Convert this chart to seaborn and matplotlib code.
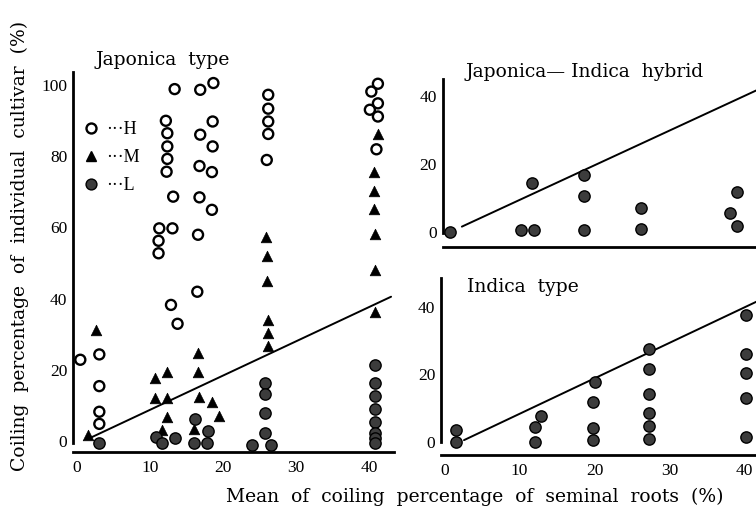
import matplotlib
matplotlib.use("Agg")
import matplotlib.pyplot as plt
from matplotlib.lines import Line2D
import seaborn as sns

# ---------------- data ----------------
# Japonica type (left panel)
H_x = [0.5, 3.1, 3.1, 3.1, 3.1, 11.2, 11.2, 11.3, 12.2, 12.4, 12.4, 12.4, 12.3, 12.9, 13.1, 13.2,
       13.4, 13.8, 16.5, 16.6, 16.8, 16.8, 16.9, 16.9, 18.5, 18.5, 18.6, 18.6, 18.7, 26.0, 26.2,
       26.2, 26.2, 26.2, 40.1, 40.3, 41.0, 41.2, 41.2, 41.2]
H_y = [22.8, 24.3, 15.4, 8.2, 4.8, 52.7, 56.2, 59.7, 89.9, 86.4, 82.7, 79.2, 75.6, 38.2, 59.7, 68.6,
       98.8, 32.9, 41.9, 57.9, 68.4, 77.2, 86.0, 98.6, 75.5, 64.9, 89.7, 82.7, 100.5, 78.9, 97.2,
       93.3, 89.7, 86.2, 93.0, 98.1, 81.9, 100.3, 94.8, 91.1]
M_x = [1.5, 2.6, 10.7, 10.7, 11.7, 12.3, 12.3, 12.4, 16.0, 16.6, 16.6, 16.7, 18.5, 19.5, 25.9,
       26.0, 26.0, 26.2, 26.2, 26.2, 40.6, 40.6, 40.7, 40.8, 40.8, 40.8, 41.2]
M_y = [1.7, 31.2, 17.6, 12.2, 3.1, 19.3, 12.2, 6.8, 3.4, 24.6, 19.5, 12.4, 10.8, 7.1, 57.4,
       51.9, 45.0, 34.0, 30.4, 26.7, 75.6, 70.3, 65.2, 58.1, 48.0, 36.3, 86.2]
L_x = [3.0, 10.8, 11.7, 13.4, 16.1, 16.2, 17.8, 17.9, 24.0, 25.8, 25.8, 25.8, 25.8, 26.6,
       40.8, 40.8, 40.8, 40.8, 40.8, 40.8, 40.8, 40.8]
L_y = [-0.5, 1.0, -0.7, 0.8, -0.7, 6.2, -0.7, 2.8, -1.1, 16.4, 13.2, 7.8, 2.3, -1.1,
       21.3, 16.2, 12.7, 9.0, 5.4, 2.3, 0.8, -0.5]
jap_line_x = [2.0, 43.0]
jap_line_y = [1.0, 40.5]

# Japonica-Indica hybrid (top right)
hyb_x = [0.7, 10.4, 12.1, 11.9, 18.9, 18.9, 18.9, 26.7, 26.7, 38.9, 39.8, 39.8]
hyb_y = [0.0, 0.6, 0.6, 14.4, 16.9, 10.6, 0.6, 7.1, 0.9, 5.6, 11.9, 1.7]
hyb_line_x = [2.3, 43.0]
hyb_line_y = [1.6, 42.2]

# Indica type (bottom right)
ind_x = [1.6, 1.6, 12.1, 12.1, 12.8, 19.8, 19.8, 19.8, 20.0, 27.2, 27.2, 27.2, 27.2, 27.2, 27.2,
         40.2, 40.2, 40.2, 40.2, 40.2]
ind_y = [3.5, 0.0, 0.0, 4.5, 7.7, 0.5, 4.2, 11.8, 17.7, 0.8, 4.8, 8.5, 14.2, 21.7, 27.5,
         1.5, 13.0, 20.5, 26.1, 37.6]
ind_line_x = [2.6, 43.0]
ind_line_y = [0.5, 43.0]

left_yticks = [0, 20, 40, 60, 80, 100]
right_yticks = [0, 20, 40]
xticks = [0, 10, 20, 30, 40]
legend_labels = ["···H", "···M", "···L"]

# ---------------- style ----------------
sns.set_style("white")
plt.rcParams["font.family"] = ["DejaVu Serif"]
plt.rcParams["text.color"] = "black"
TICK_FONT = dict(family=["Liberation Serif", "DejaVu Serif"], size=12.5)
L_FACE = "#3c3c3c"

fig = plt.figure(figsize=(7.56, 5.07), dpi=100)
W, Hh = 756.0, 507.0
ax1 = fig.add_axes([73 / W, 1 - 452 / Hh, 321 / W, 380 / Hh])
ax2 = fig.add_axes([442.5 / W, 1 - 246.7 / Hh, 313.5 / W, 167.7 / Hh])
ax3 = fig.add_axes([440.7 / W, 1 - 455 / Hh, 315.3 / W, 177 / Hh])

kw_H = dict(marker="o", s=52, facecolor="none", edgecolor="black", linewidth=1.7)
kw_M = dict(marker="^", s=58, color="black", edgecolor="black", linewidth=0.5)
kw_L = dict(marker="o", s=66, color=L_FACE, edgecolor="black", linewidth=1.0)

# left panel
sns.lineplot(x=jap_line_x, y=jap_line_y, ax=ax1, color="black", linewidth=1.4, zorder=2)
sns.scatterplot(x=H_x, y=H_y, ax=ax1, zorder=3, clip_on=False, **kw_H)
sns.scatterplot(x=M_x, y=M_y, ax=ax1, zorder=3, clip_on=False, **kw_M)
sns.scatterplot(x=L_x, y=L_y, ax=ax1, zorder=3, clip_on=False, **kw_L)
ax1.set_xlim(-0.5, 43.4)
ax1.set_ylim(-3.1, 103.6)
ax1.set_yticks(left_yticks)
ax1.spines["left"].set_bounds(-0.5, 103.6)

# top right
sns.lineplot(x=hyb_line_x, y=hyb_line_y, ax=ax2, color="black", linewidth=1.4, zorder=2)
sns.scatterplot(x=hyb_x, y=hyb_y, ax=ax2, zorder=3, clip_on=False, **kw_L)
ax2.set_xlim(-0.34, 42.4)
ax2.set_ylim(-4.3, 45)
ax2.set_yticks(right_yticks)
ax2.spines["left"].set_bounds(-0.3, 45)

# bottom right
sns.lineplot(x=ind_line_x, y=ind_line_y, ax=ax3, color="black", linewidth=1.4, zorder=2)
sns.scatterplot(x=ind_x, y=ind_y, ax=ax3, zorder=3, clip_on=False, **kw_L)
ax3.set_xlim(-0.5, 41.5)
ax3.set_ylim(-3.9, 48.5)
ax3.set_yticks(right_yticks)
ax3.spines["left"].set_bounds(0, 48.5)

for ax in (ax1, ax2, ax3):
    ax.set_xticks(xticks)
    for s in ("top", "right"):
        ax.spines[s].set_visible(False)
    for s in ("left", "bottom"):
        ax.spines[s].set_linewidth(2.0)
        ax.spines[s].set_color("black")
    ax.tick_params(direction="in", length=5, width=1.6, colors="black", pad=4)
    ax.tick_params(axis="x", pad=6)
    for lab in ax.get_xticklabels() + ax.get_yticklabels():
        lab.set_fontfamily(TICK_FONT["family"])
        lab.set_fontsize(TICK_FONT["size"])
        lab.set_color("black")
    ax.set_xlabel("")
    ax.set_ylabel("")
    if ax.get_legend():
        ax.get_legend().remove()
ax2.tick_params(axis="x", labelbottom=False)

# legend in left panel
handles = [Line2D([], [], linestyle="none", marker="o", markersize=7.2, markerfacecolor="none",
                  markeredgecolor="black", markeredgewidth=1.7),
           Line2D([], [], linestyle="none", marker="^", markersize=7.8, color="black"),
           Line2D([], [], linestyle="none", marker="o", markersize=7.8, markerfacecolor=L_FACE,
                  markeredgecolor="black", markeredgewidth=1.0)]
leg = ax1.legend(handles, legend_labels, loc="upper left", bbox_to_anchor=(0.035, 0.87),
                 frameon=False, prop=dict(family=["Liberation Serif", "DejaVu Serif"], size=13),
                 handlelength=0.8, handletextpad=0.4, labelspacing=0.6, borderpad=0, borderaxespad=0)
for t in leg.get_texts():
    t.set_color("black")

# titles and axis labels
TF = 13.5
txt = dict(fontsize=TF, color="black")
fig.text(96 / W, 1 - 60 / Hh, "Japonica  type", ha="left", va="center", **txt)
fig.text(466 / W, 1 - 72 / Hh, "Japonica— Indica  hybrid", ha="left", va="center", **txt)
fig.text(467 / W, 1 - 287 / Hh, "Indica  type", ha="left", va="center", **txt)
fig.text(20 / W, 1 - 246 / Hh, "Coiling  percentage  of  individual  cultivar  (%)",
         rotation=90, ha="center", va="center", **txt)
fig.text(475 / W, 1 - 497 / Hh, "Mean  of  coiling  percentage  of  seminal  roots  (%)",
         ha="center", va="center", **txt)

fig.savefig("out.png", dpi=100)
